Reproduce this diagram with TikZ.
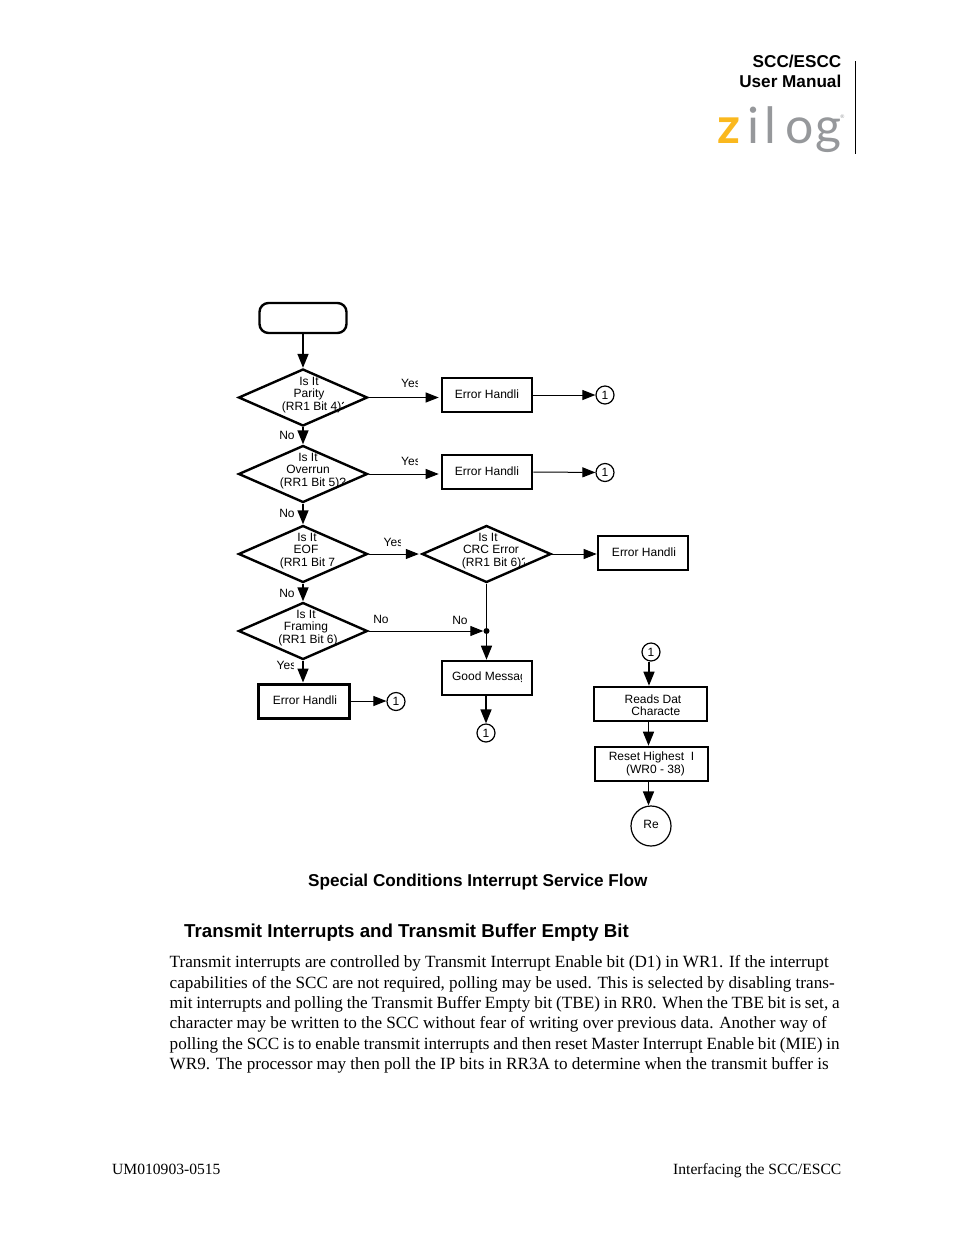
\documentclass[tikz,border=0pt]{standalone}
\usepackage{fontspec}
\setmainfont{Liberation Serif}
\newfontfamily\chartfont{Liberation Sans}
\newfontfamily\logofont{Lato}
\usetikzlibrary{arrows.meta,shapes.geometric}
\definecolor{zilogyellow}{RGB}{250,184,30}
\definecolor{ziloggray}{RGB}{150,152,155}
\tikzset{
    chartlabel/.style={font=\chartfont\fontsize{12}{12.6}\selectfont, align=center, inner sep=0pt},
    singleline/.style={text depth=2.6pt},
    decision/.style={draw, diamond, line width=2.4pt, minimum width=129pt, minimum height=57pt, inner sep=0pt, aspect=2.26},
    procbox/.style={draw, line width=2.6pt, inner sep=0pt, chartlabel},
    connector/.style={draw, circle, line width=1.2pt, minimum size=18pt, inner sep=0pt, chartlabel},
    hflow/.style={line width=1pt, -{Triangle[length=13pt,width=10pt]}},
    vflow/.style={line width=1.5pt, -{Triangle[length=14pt,width=11pt]}},
    logoletter/.style={font=\logofont\fontsize{50}{50}\selectfont, text=ziloggray, inner sep=0pt, anchor=base}
}
% label whose text is cut off at a given x
\newcommand{\cutlabel}[5]{%
    \begin{scope}
        \clip (#2-60,#3-25) rectangle (#4,#3+25);
        \node[chartlabel] (#1) at (#2,#3) {#5};
    \end{scope}}
\begin{document}
\begin{tikzpicture}[x=1pt, y=-1pt]
    \useasboundingbox (0,0) rectangle (954,1235);

    % Page header
    \node[font=\chartfont\bfseries\fontsize{17.15}{20}\selectfont, anchor=base east, inner sep=0pt] (hdrA) at (841.5,67) {SCC/ESCC};
    \node[font=\chartfont\bfseries\fontsize{17.15}{20}\selectfont, anchor=base east, inner sep=0pt] (hdrB) at (841.5,87) {User Manual};
    \draw[line width=1pt] (855.5,61) -- (855.5,154);

    % Logo
    \node[logoletter, text=zilogyellow, font=\logofont\bfseries\fontsize{50}{50}\selectfont] (logoZ) at (728.5,143) {z};
    \node[logoletter] (logoI) at (753,143) {i};
    \node[logoletter] (logoL) at (770,143) {l};
    \node[logoletter] (logoO) at (800,143) {o};
    \node[logoletter] (logoG) at (828,143) {g};
    \node[font=\logofont\fontsize{5}{5}\selectfont, text=ziloggray, inner sep=0pt] (logoR) at (842.5,117) {®};

    % Start
    \node[draw, rounded corners=9pt, line width=2.4pt, minimum width=87pt, minimum height=30pt] (start) at (303,318) {};

    % Decisions
    \node[decision] (parity) at (303,397.5) {};
    \node[decision] (overrun) at (303,474) {};
    \node[decision] (eof) at (303,554) {};
    \node[decision] (framing) at (303,631) {};
    \node[decision] (crc) at (486.5,554) {};
    \cutlabel{parityText}{309}{395}{343}{Is It\\Parity\\\hspace*{12pt}(RR1 Bit 4)?}
    \cutlabel{overrunText}{308}{471}{345}{Is It\\Overrun\\\hspace*{10pt}(RR1 Bit 5)?}
    \node[chartlabel] (eofText) at (306,551) {\hspace*{2pt}Is It\\EOF\\\hspace*{3pt}(RR1 Bit 7};
    \node[chartlabel] (framingText) at (306,628) {Is It\\Framing\\\hspace*{4pt}(RR1 Bit 6)};
    \cutlabel{crcText}{491}{551}{524}{Is It\hspace*{6pt}\\CRC Error\\\hspace*{8pt}(RR1 Bit 6)?}

    % Boxes
    \node[procbox, singleline, minimum width=90pt, minimum height=34pt] (errA) at (487,395) {Error Handli};
    \node[procbox, singleline, minimum width=90pt, minimum height=34pt] (errB) at (487,472) {Error Handli};
    \node[procbox, singleline, minimum width=90pt, minimum height=34pt] (errC) at (643,553) {\hspace*{2pt}Error Handli};
    \node[procbox, singleline, line width=3pt, minimum width=91pt, minimum height=34pt] (errD) at (303.5,701) {\hspace*{3pt}Error Handli};
    \node[procbox, minimum width=90pt, minimum height=34pt] (good) at (487,678) {};
    \cutlabel{goodText}{489.5}{677}{521}{Good Messag}
    \node[procbox, text height=23.5pt, minimum width=113pt, minimum height=34pt] (reads) at (650.5,704) {\hspace*{5pt}Reads Dat\\\hspace*{4pt}\ \ Characte};
    \node[procbox, minimum width=113pt, minimum height=34pt] (reset) at (651.5,764) {Reset Highest\ \ I\\\hspace*{8pt}(WR0 - 38)};

    % Connectors
    \node[connector] (oneA) at (605,395) {1};
    \node[connector] (oneB) at (605,472.5) {1};
    \node[connector] (oneC) at (396,701.5) {1};
    \node[connector] (oneD) at (486,733) {1};
    \node[connector] (oneE) at (651,652) {1};
    \node[draw, circle, line width=1.2pt, minimum size=40pt, inner sep=0pt, chartlabel, singleline] (ret) at (651,826) {Re};
    \node[circle, fill, minimum size=6pt, inner sep=0pt] (merge) at (486.5,631) {};

    % Flow down the left column
    \draw[vflow] (start) -- (parity);
    \draw[vflow] (parity) -- (overrun);
    \draw[vflow] (overrun) -- (eof);
    \draw[vflow] (eof) -- (framing);
    \draw[vflow] (framing.south) -- (framing.south |- errD.north);
    \draw[hflow] (errD.east) -- (oneC.west |- errD.east);

    % Yes branches
    \draw[hflow] (parity.east) -- ([xshift=-2pt]parity.east -| errA.west);
    \draw[hflow] (errA.east) -- (oneA);
    \draw[hflow] (overrun.east) -- ([xshift=-2pt]overrun.east -| errB.west);
    \draw[hflow] (errB.east) -- (oneB);
    \draw[hflow] (eof.east) -- ([xshift=-2pt]crc.west);
    \draw[hflow] (crc.east) -- (crc.east -| errC.west);

    % No branches into the merge point
    \draw[hflow] (framing.east) -- (merge);
    \draw[line width=1.5pt] (crc.south) -- (merge);
    \draw[vflow] (merge) -- (merge |- good.north);
    \draw[vflow] ([yshift=2pt]good.south -| oneD) -- (oneD);

    % Right column
    \draw[vflow] ([xshift=-2pt]oneE.south) -- ([xshift=-2pt]oneE.south |- reads.north);
    \draw[vflow] ([xshift=-2pt]reads.south) -- ([xshift=-2pt]reads.south |- reset.north);
    \draw[vflow] ([xshift=-3pt]reset.south) -- ([xshift=-3pt]reset.south |- ret.north);

    % Branch labels
    \cutlabel{yesA}{411}{383}{417}{Yes}
    \cutlabel{yesB}{411}{461}{417}{Yes}
    \cutlabel{yesC}{393.5}{542}{400}{Yes}
    \cutlabel{yesD}{286.5}{665}{293}{Yes}
    \node[chartlabel] (noA) at (287,435) {No};
    \node[chartlabel] (noB) at (287,513) {No};
    \node[chartlabel] (noC) at (287,593) {No};
    \node[chartlabel] (noD) at (381,619) {No};
    \node[chartlabel] (noE) at (460,620) {No};

    % Caption and heading
    \node[font=\chartfont\bfseries\fontsize{17.15}{20}\selectfont, anchor=base west, inner sep=0pt] (caption) at (308,886) {Special Conditions Interrupt Service Flow};
    \node[font=\chartfont\bfseries\fontsize{18.7}{20}\selectfont, anchor=base west, inner sep=0pt] (heading) at (184,937) {Transmit Interrupts and Transmit Buffer Empty Bit};

    % Body text
    \foreach \ypos/\linew/\linetext in {
        967/659/{Transmit interrupts are controlled by Transmit Interrupt Enable bit (D1) in WR1. If the interrupt},
        988/665/{capabilities of the SCC are not required, polling may be used. This is selected by disabling trans-},
        1008/670/{mit interrupts and polling the Transmit Buffer Empty bit (TBE) in RR0. When the TBE bit is set, a},
        1028/657/{character may be written to the SCC without fear of writing over previous data. Another way of},
        1049/670/{polling the SCC is to enable transmit interrupts and then reset Master Interrupt Enable bit (MIE) in},
        1069/659/{WR9. The processor may then poll the IP bits in RR3A to determine when the transmit buffer is}}
        \node[font=\fontsize{17.15}{20}\selectfont, anchor=base west, inner sep=0pt] at (169.5,\ypos) {\makebox[\linew pt][s]{\linetext}};

    % Footer
    \node[font=\fontsize{15.6}{18}\selectfont, anchor=base west, inner sep=0pt] (footL) at (112,1174) {UM010903-0515};
    \node[font=\fontsize{15.6}{18}\selectfont, anchor=base east, inner sep=0pt] (footR) at (841.5,1174) {Interfacing the SCC/ESCC};
\end{tikzpicture}
\end{document}
